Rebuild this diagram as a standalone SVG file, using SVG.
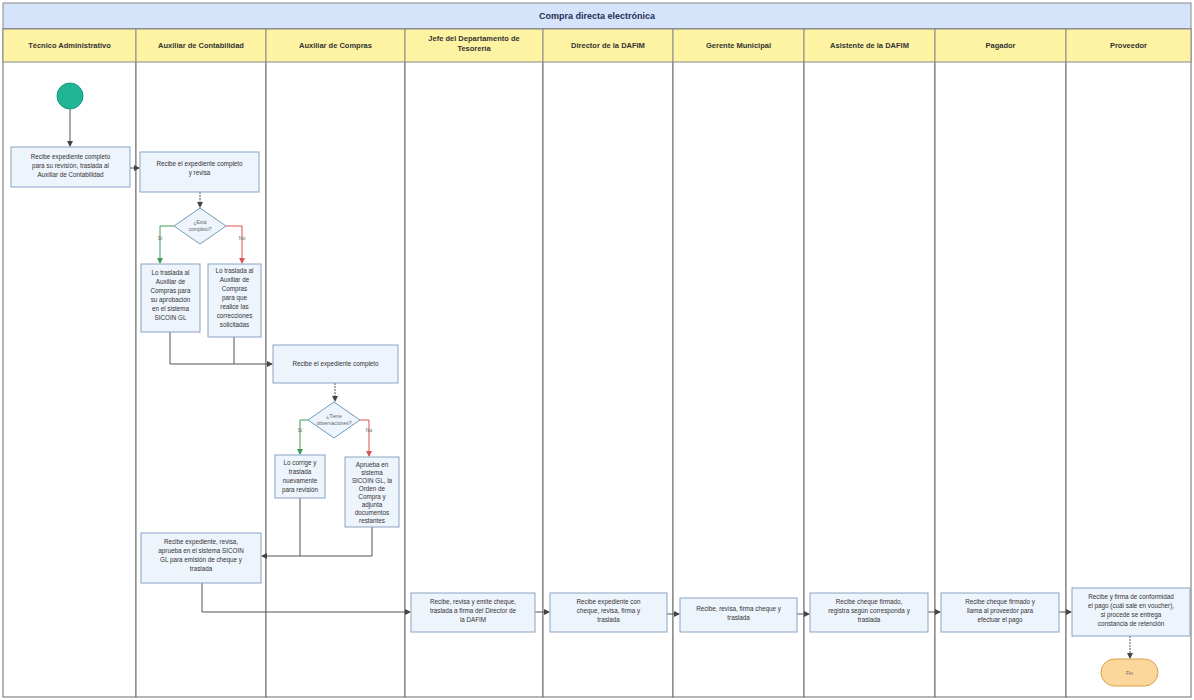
<svg xmlns="http://www.w3.org/2000/svg" width="1194" height="700" viewBox="0 0 1194 700">
<defs>
<style>
.lane{fill:#ffffff;stroke:#6b6b6b;stroke-width:1}
.hdr{fill:#fdf3a3;stroke:#8a8a8a;stroke-width:1}
.ttl{fill:#d5e4fb;stroke:#8a8a8a;stroke-width:1}
.ht{font-family:"Liberation Sans",Arial,sans-serif;font-size:7.5px;font-weight:bold;fill:#333;text-anchor:middle}
.tt{font-family:"Liberation Sans",Arial,sans-serif;font-size:9px;font-weight:bold;fill:#1f2f55;text-anchor:middle}
.box{fill:#eef4fc;stroke:#8aa3c4;stroke-width:1}
.dia{fill:#eef4fc;stroke:#6f9bb8;stroke-width:1}
.t{font-family:"Liberation Sans",Arial,sans-serif;font-size:6.3px;fill:#333;text-anchor:middle}
.c{fill:none;stroke:#555;stroke-width:1}
.g{fill:none;stroke:#3a9e57;stroke-width:1}
.r{fill:none;stroke:#d9534f;stroke-width:1}
.lb{font-family:"Liberation Sans",Arial,sans-serif;font-size:5px;fill:#666;text-anchor:middle}
</style>
<marker id="a" markerWidth="6" markerHeight="6" refX="5" refY="3" orient="auto" markerUnits="userSpaceOnUse"><path d="M0,0 L6,3 L0,6 z" fill="#444"/></marker>
<marker id="ag" markerWidth="6" markerHeight="6" refX="5" refY="3" orient="auto" markerUnits="userSpaceOnUse"><path d="M0,0 L6,3 L0,6 z" fill="#3a9e57"/></marker>
<marker id="ar" markerWidth="6" markerHeight="6" refX="5" refY="3" orient="auto" markerUnits="userSpaceOnUse"><path d="M0,0 L6,3 L0,6 z" fill="#d9534f"/></marker>
</defs>
<rect width="1194" height="700" fill="#ffffff"/>
<g id="pool">
<rect class="ttl" x="3" y="3" width="1188" height="26"/>
<text class="tt" x="597" y="19">Compra directa electrónica</text>
<rect class="lane" x="3" y="29" width="133" height="668"/>
<rect class="lane" x="136" y="29" width="130" height="668"/>
<rect class="lane" x="266" y="29" width="139" height="668"/>
<rect class="lane" x="405" y="29" width="138" height="668"/>
<rect class="lane" x="543" y="29" width="130" height="668"/>
<rect class="lane" x="673" y="29" width="131" height="668"/>
<rect class="lane" x="804" y="29" width="131" height="668"/>
<rect class="lane" x="935" y="29" width="131" height="668"/>
<rect class="lane" x="1066" y="29" width="125" height="668"/>
<rect class="hdr" x="3" y="29" width="133" height="33"/>
<rect class="hdr" x="136" y="29" width="130" height="33"/>
<rect class="hdr" x="266" y="29" width="139" height="33"/>
<rect class="hdr" x="405" y="29" width="138" height="33"/>
<rect class="hdr" x="543" y="29" width="130" height="33"/>
<rect class="hdr" x="673" y="29" width="131" height="33"/>
<rect class="hdr" x="804" y="29" width="131" height="33"/>
<rect class="hdr" x="935" y="29" width="131" height="33"/>
<rect class="hdr" x="1066" y="29" width="125" height="33"/>
<text class="ht" x="69.5" y="48">Técnico Administrativo</text>
<text class="ht" x="201" y="48">Auxiliar de Contabilidad</text>
<text class="ht" x="335.5" y="48">Auxiliar de Compras</text>
<text class="ht" x="474" y="41">Jefe del Departamento de</text>
<text class="ht" x="474" y="51">Tesorería</text>
<text class="ht" x="608" y="48">Director de la DAFIM</text>
<text class="ht" x="738.5" y="48">Gerente Municipal</text>
<text class="ht" x="869.5" y="48">Asistente de la DAFIM</text>
<text class="ht" x="1000.5" y="48">Pagador</text>
<text class="ht" x="1128.5" y="48">Proveedor</text>
</g>
<g id="connectors">
<path class="c" d="M70,109 V146" marker-end="url(#a)"/>
<path class="c" d="M130,168 H139" marker-end="url(#a)"/>
<path class="c" d="M200,192 V207" stroke-dasharray="2,1" marker-end="url(#a)"/>
<path class="g" d="M174,226 H160 V263" marker-end="url(#ag)"/>
<path class="r" d="M226,226 H242 V263" marker-end="url(#ar)"/>
<path class="c" d="M170,332 V364 H272" marker-end="url(#a)"/>
<path class="c" d="M234,337 V364"/>
<path class="c" d="M335,383 V401" stroke-dasharray="2,1" marker-end="url(#a)"/>
<path class="g" d="M308,420 H300 V454" marker-end="url(#ag)"/>
<path class="r" d="M360,420 H369 V456" marker-end="url(#ar)"/>
<path class="c" d="M300,498 V556"/>
<path class="c" d="M372,527 V556 H262" marker-end="url(#a)"/>
<path class="c" d="M202,583 V612 H410" marker-end="url(#a)"/>
<path class="c" d="M535,612 H549" marker-end="url(#a)"/>
<path class="c" d="M667,614 H679" marker-end="url(#a)"/>
<path class="c" d="M797,614 H809" marker-end="url(#a)"/>
<path class="c" d="M928,612 H940" marker-end="url(#a)"/>
<path class="c" d="M1059,612 H1071" marker-end="url(#a)"/>
<path class="c" d="M1130,636 V658" stroke-dasharray="2,1" marker-end="url(#a)"/>
<text class="lb" x="160" y="240">Sí</text>
<text class="lb" x="242" y="240">No</text>
<text class="lb" x="300" y="432">Sí</text>
<text class="lb" x="369" y="432">No</text>
</g>
<g id="inicio"><circle cx="70" cy="96" r="13" fill="#1fb595" stroke="#17997e"/></g>
<g id="n1"><rect class="box" x="11" y="147" width="119" height="40"/>
<text class="t" x="70.5" y="159">Recibe expediente completo</text><text class="t" x="70.5" y="168">para su revisión, traslada al</text><text class="t" x="70.5" y="177">Auxiliar de Contabilidad</text></g>
<g id="n2"><rect class="box" x="140" y="152" width="119" height="40"/>
<text class="t" x="199.5" y="166">Recibe el expediente completo</text><text class="t" x="199.5" y="175">y revisa</text></g>
<g id="d1"><polygon class="dia" points="200,208 226,226 200,244 174,226"/>
<text class="lb" x="200" y="224">¿Está</text><text class="lb" x="200" y="231">completo?</text></g>
<g id="n3"><rect class="box" x="141" y="264" width="59" height="68"/>
<text class="t" x="170.5" y="275">Lo traslada al</text><text class="t" x="170.5" y="284">Auxiliar de</text><text class="t" x="170.5" y="293">Compras para</text><text class="t" x="170.5" y="302">su aprobación</text><text class="t" x="170.5" y="311">en el sistema</text><text class="t" x="170.5" y="320">SICOIN GL</text></g>
<g id="n4"><rect class="box" x="208" y="264" width="53" height="73"/>
<text class="t" x="234.5" y="273">Lo traslada al</text><text class="t" x="234.5" y="282">Auxiliar de</text><text class="t" x="234.5" y="291">Compras</text><text class="t" x="234.5" y="300">para que</text><text class="t" x="234.5" y="309">realice las</text><text class="t" x="234.5" y="318">correcciones</text><text class="t" x="234.5" y="327">solicitadas</text></g>
<g id="n5"><rect class="box" x="273" y="345" width="125" height="38"/>
<text class="t" x="335.5" y="366">Recibe el expediente completo</text></g>
<g id="d2"><polygon class="dia" points="334,402 360,420 334,438 308,420"/>
<text class="lb" x="334" y="418">¿Tiene</text><text class="lb" x="334" y="425">observaciones?</text></g>
<g id="n6"><rect class="box" x="275" y="455" width="50" height="43"/>
<text class="t" x="300" y="465">Lo corrige y</text><text class="t" x="300" y="474">traslada</text><text class="t" x="300" y="483">nuevamente</text><text class="t" x="300" y="492">para revisión</text></g>
<g id="n7"><rect class="box" x="345" y="457" width="54" height="70"/>
<text class="t" x="372" y="467">Aprueba en</text><text class="t" x="372" y="475">sistema</text><text class="t" x="372" y="483">SICOIN GL, la</text><text class="t" x="372" y="491">Orden de</text><text class="t" x="372" y="499">Compra y</text><text class="t" x="372" y="507">adjunta</text><text class="t" x="372" y="515">documentos</text><text class="t" x="372" y="523">restantes</text></g>
<g id="n8"><rect class="box" x="141" y="533" width="120" height="50"/>
<text class="t" x="201" y="544">Recibe expediente, revisa,</text><text class="t" x="201" y="553">aprueba en el sistema SICOIN</text><text class="t" x="201" y="562">GL para emisión de cheque y</text><text class="t" x="201" y="571">traslada</text></g>
<g id="n9"><rect class="box" x="411" y="593" width="124" height="39"/>
<text class="t" x="473" y="604">Recibe, revisa y emite cheque,</text><text class="t" x="473" y="613">traslada a firma del Director de</text><text class="t" x="473" y="622">la DAFIM</text></g>
<g id="n10"><rect class="box" x="550" y="593" width="117" height="39"/>
<text class="t" x="608.5" y="604">Recibe expediente con</text><text class="t" x="608.5" y="613">cheque, revisa, firma y</text><text class="t" x="608.5" y="622">traslada</text></g>
<g id="n11"><rect class="box" x="680" y="598" width="117" height="34"/>
<text class="t" x="738.5" y="611">Recibe, revisa, firma cheque y</text><text class="t" x="738.5" y="620">traslada</text></g>
<g id="n12"><rect class="box" x="810" y="593" width="118" height="39"/>
<text class="t" x="869" y="604">Recibe cheque firmado,</text><text class="t" x="869" y="613">registra según corresponda y</text><text class="t" x="869" y="622">traslada</text></g>
<g id="n13"><rect class="box" x="941" y="593" width="118" height="39"/>
<text class="t" x="1000" y="604">Recibe cheque firmado y</text><text class="t" x="1000" y="613">llama al proveedor para</text><text class="t" x="1000" y="622">efectuar el pago</text></g>
<g id="n14"><rect class="box" x="1072" y="588" width="118" height="48"/>
<text class="t" x="1131" y="599">Recibe y firma de conformidad</text><text class="t" x="1131" y="608">el pago (cuál sale en voucher),</text><text class="t" x="1131" y="617">si procede se entrega</text><text class="t" x="1131" y="626">constancia de retención</text></g>
<g id="fin"><rect x="1101" y="659" width="57" height="27" rx="13.5" fill="#fcd79c" stroke="#d9a24a"/>
<text class="lb" x="1129.5" y="674.5">Fin</text></g>
</svg>
